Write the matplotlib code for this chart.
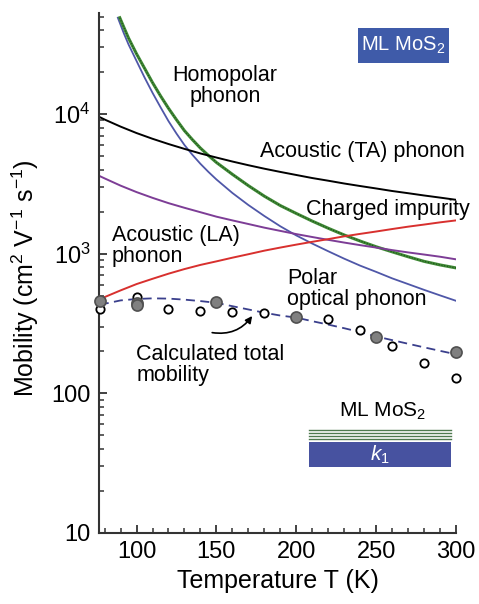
import numpy as np
import matplotlib
matplotlib.use("Agg")
import matplotlib.pyplot as plt
from matplotlib.patches import Rectangle

plt.rcParams['font.family'] = ['Liberation Sans', 'DejaVu Sans']
plt.rcParams['mathtext.fontset'] = 'custom'
plt.rcParams['mathtext.rm'] = 'Liberation Sans'
plt.rcParams['mathtext.it'] = 'Liberation Sans:italic'

# curves (T in K, mobility in cm2/Vs)
t_grid = [77, 80, 90, 100, 110, 120, 130, 140, 150, 160, 170, 180, 190, 200,
          210, 220, 230, 240, 250, 260, 270, 280, 290, 300]
mu_ta = [9500, 9140, 8130, 7310, 6650, 6100, 5630, 5220, 4880, 4570, 4300, 4060,
         3850, 3660, 3480, 3330, 3180, 3050, 2930, 2810, 2710, 2610, 2520, 2430]
mu_la = [3590, 3460, 3070, 2760, 2510, 2300, 2130, 1980, 1840, 1730, 1630, 1535,
         1455, 1380, 1315, 1255, 1200, 1150, 1105, 1060, 1020, 985, 950, 910]
mu_imp = [472, 488, 545, 605, 660, 718, 775, 830, 880, 935, 990, 1050, 1105, 1160,
          1215, 1270, 1330, 1385, 1440, 1500, 1560, 1615, 1675, 1730]

t_homo = [89.5, 92, 95, 100, 105, 110, 115, 120, 125, 130, 135, 140, 145, 150, 160,
          170, 180, 190, 200, 210, 220, 230, 240, 250, 260, 270, 280, 290, 300]
mu_homo = [49000, 42000, 35000, 27000, 21300, 16800, 13500, 11000, 9100, 7600, 6550,
           5700, 5050, 4500, 3700, 3070, 2580, 2210, 1940, 1710, 1520, 1360, 1230,
           1120, 1030, 950, 880, 830, 790]

t_pop = [88.3, 92, 95, 100, 105, 110, 115, 120, 125, 130, 135, 140, 145, 150, 160,
         170, 180, 190, 200, 210, 220, 230, 240, 250, 260, 270, 280, 290, 300]
mu_pop = [49000, 38000, 31500, 24000, 18300, 14200, 11200, 8900, 7250, 6000, 5100,
          4400, 3850, 3400, 2720, 2230, 1860, 1570, 1350, 1180, 1040, 920, 820, 740,
          665, 605, 550, 502, 459]

t_tot = [77, 90, 100, 110, 120, 130, 140, 150, 160, 170, 180, 190, 200, 210, 220,
         230, 240, 250, 260, 270, 280, 290, 300]
mu_tot = [430, 462, 473, 478, 476, 468, 457, 444, 420, 398, 377, 360, 348, 328, 310,
          292, 274, 255, 240, 226, 213, 201, 190]

# measured points
t_filled = [77, 100, 100, 150, 200, 250, 300]
mu_filled = [459, 445, 425, 447, 349, 251, 196]
t_open = [77, 100, 120, 140, 160, 180, 200, 220, 240, 260, 280, 300]
mu_open = [398, 485, 401, 390, 379, 375, 350, 340, 284, 219, 164, 129]

fig = plt.figure(figsize=(4.79, 6.04), dpi=100)
ax = fig.add_axes([0.2067, 0.118, 0.7453, 0.8605])

ax.plot(t_pop, mu_pop, color='#4f57a8', lw=1.3)
ax.plot(t_homo, mu_homo, color='#3f8a35', lw=2.2)
ax.plot(t_homo, mu_homo, color='#1f4a1a', lw=0.8, ls=(0, (1, 1.5)))
ax.plot(t_grid, mu_ta, color='black', lw=1.4)
ax.plot(t_grid, mu_la, color='#7d3d96', lw=1.4)
ax.plot(t_grid, mu_imp, color='#d8302e', lw=1.4)
ax.plot(t_tot, mu_tot, color='#3a3f8c', lw=1.3, ls=(0, (5, 3)))

ax.plot(t_open, mu_open, 'o', ms=6, mfc='white', mec='black', mew=1.3, clip_on=False, zorder=4)
ax.plot(t_filled, mu_filled, 'o', ms=8, mfc='#808080', mec='#505050', mew=1.2, clip_on=False, zorder=5)

ax.set_yscale('log')
ax.set_xlim(76.5, 300)
ax.set_ylim(10, 53000)
ax.set_yticks([10, 100, 1000, 10000])
ax.set_yticklabels(['10', '100', '$10^3$', '$10^4$'])
ax.set_xticks([100, 150, 200, 250, 300])
ax.set_xticks(np.arange(80, 301, 10), minor=True)

for s in ['top', 'right']:
    ax.spines[s].set_visible(False)
for s in ['left', 'bottom']:
    ax.spines[s].set_color('#333333')
    ax.spines[s].set_linewidth(1.5)
ax.tick_params(which='both', direction='in', colors='#333333', labelcolor='black', labelsize=17)
ax.tick_params(which='major', length=6, width=1.3, pad=6)
ax.tick_params(which='minor', length=3.5, width=1.1)

ax.set_xlabel('Temperature T (K)', fontsize=18)
ax.set_ylabel('Mobility (cm$^2$ V$^{-1}$ s$^{-1}$)', fontsize=18)
ax.yaxis.set_label_coords(-0.163, 0.49)

fs = 15.5
ax.text(0.353, 0.860, 'Homopolar\nphonon', transform=ax.transAxes, fontsize=fs,
        ha='center', va='center', multialignment='center', linespacing=1.0)
ax.text(0.451, 0.733, 'Acoustic (TA) phonon', transform=ax.transAxes, fontsize=fs,
        ha='left', va='center')
ax.text(0.580, 0.621, 'Charged impurity', transform=ax.transAxes, fontsize=fs,
        ha='left', va='center')
ax.text(0.036, 0.552, 'Acoustic (LA)\nphonon', transform=ax.transAxes, fontsize=fs,
        ha='left', va='center', linespacing=1.0)
ax.text(0.527, 0.469, 'Polar\noptical phonon', transform=ax.transAxes, fontsize=fs,
        ha='left', va='center', linespacing=1.0)
ax.text(0.104, 0.322, 'Calculated total\nmobility', transform=ax.transAxes, fontsize=fs,
        ha='left', va='center', linespacing=1.0)
ax.annotate('', xy=(0.429, 0.417), xytext=(0.317, 0.385), xycoords='axes fraction',
            arrowprops=dict(arrowstyle='-|>', color='black', lw=1.2, mutation_scale=10,
                            connectionstyle='arc3,rad=0.3', shrinkA=0, shrinkB=0))

# label box top right
ax.add_patch(Rectangle((0.7255, 0.904), 0.255, 0.0673, transform=ax.transAxes,
                       facecolor='#3f5ba9', edgecolor='none', clip_on=False))
ax.text(0.853, 0.938, 'ML MoS$_2$', transform=ax.transAxes, fontsize=14.5, color='white',
        ha='center', va='center')

# layer sketch bottom right
ax.text(0.795, 0.234, 'ML MoS$_2$', transform=ax.transAxes, fontsize=15,
        ha='center', va='center')
for fy in [0.198, 0.192, 0.186, 0.180]:
    ax.plot([0.588, 0.986], [fy, fy], transform=ax.transAxes, color='#4f7a4f', lw=1.0)
ax.add_patch(Rectangle((0.588, 0.126), 0.398, 0.049, transform=ax.transAxes,
                       facecolor='#4752a0', edgecolor='none'))
ax.text(0.787, 0.150, '$k_1$', transform=ax.transAxes, fontsize=15, color='white',
        ha='center', va='center')

fig.savefig('out.png', dpi=100)
